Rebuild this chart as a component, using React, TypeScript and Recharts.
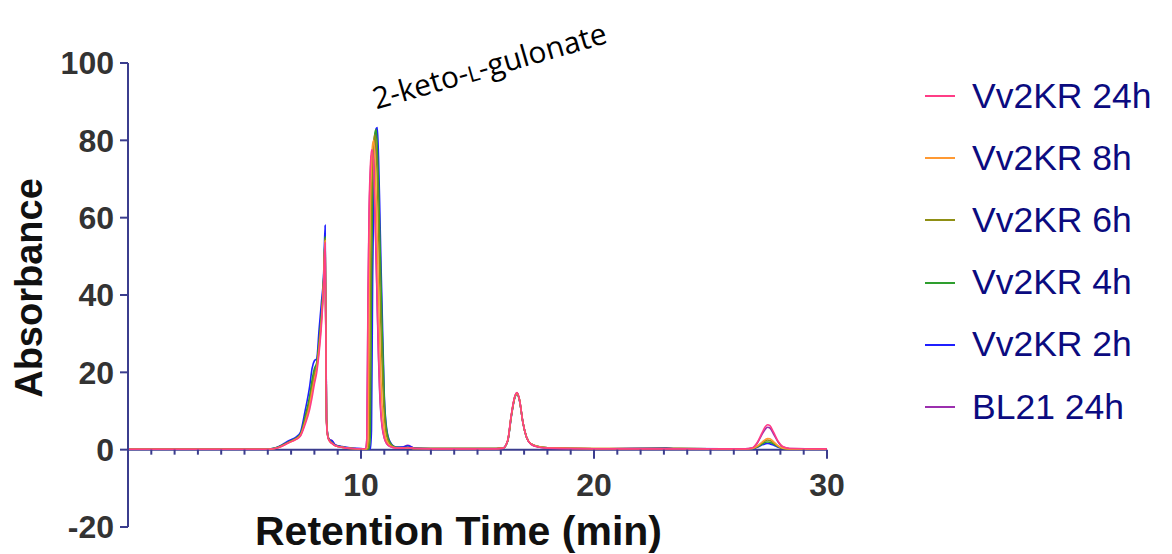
import { LineChart, Line, XAxis, YAxis, ReferenceLine, ReferenceDot, Legend } from 'recharts';

// retention time (min), denser around the peaks
const TIME = [
  0, 3, 6, 6.3, 6.6, 6.9, 7.2, 7.4, 7.6, 7.8,
  7.9, 8.0, 8.1, 8.2, 8.3, 8.4, 8.46, 8.52, 8.58, 8.65,
  8.75, 8.9, 9.2, 9.6, 10.0, 10.2, 10.25, 10.3, 10.35, 10.4,
  10.45, 10.5, 10.55, 10.6, 10.65, 10.7, 10.75, 10.8, 10.85, 10.9,
  11.0, 11.1, 11.25, 11.5, 11.8, 12.0, 12.3, 13, 15.8, 16.1,
  16.3, 16.45, 16.6, 16.7, 16.8, 16.95, 17.1, 17.3, 17.6, 18.0,
  20, 23.1, 23.4, 26.5, 26.8, 27.0, 27.2, 27.35, 27.45, 27.55,
  27.7, 27.9, 28.1, 28.4, 30,
];

const V_24H = [
  0.1, 0.1, 0.1, 0.3, 0.9, 1.8, 2.6, 3.5, 6.5, 10.5,
  13.5, 17, 20, 25, 32, 43, 53.5, 7, 3.2, 2.2,
  1.6, 1.0, 0.6, 0.3, 0.2, 0.3, 3, 40, 63, 73,
  77.5, 77.5, 72, 62, 50, 37, 25, 16, 10, 6.5,
  3, 1.6, 0.8, 0.4, 0.4, 0.5, 0.3, 0.2, 0.2, 0.4,
  2.5, 9, 13.8, 14.8, 13, 7, 3.3, 1.4, 0.7, 0.4,
  0.2, 0.2, 0.2, 0.2, 0.5, 1.8, 4.2, 5.9, 6.45, 6.2,
  4.6, 2.2, 0.8, 0.3, 0.2,
];

const V_8H = [
  0.1, 0.1, 0.1, 0.3, 0.9, 1.8, 2.7, 3.7, 7, 11.5,
  15, 18, 21, 26, 33, 43.5, 54, 7.5, 3.3, 2.2,
  1.6, 1.0, 0.6, 0.3, 0.2, 0.2, 0.3, 3, 40, 64,
  74, 79, 80, 75, 66, 54, 41, 29, 19, 12,
  5, 2.3, 1.0, 0.5, 0.4, 0.5, 0.3, 0.3, 0.3, 0.4,
  2.4, 8.8, 13.6, 14.6, 12.9, 7, 3.3, 1.5, 0.8, 0.5,
  0.3, 0.3, 0.3, 0.2, 0.3, 0.9, 1.9, 2.6, 2.9, 2.8,
  2.1, 1.0, 0.4, 0.2, 0.2,
];

const V_6H = [
  0.1, 0.1, 0.1, 0.3, 1.0, 1.9, 2.8, 3.8, 7.5, 12.5,
  16, 19.5, 21.5, 27, 34, 44, 54.5, 7.5, 3.3, 2.3,
  1.7, 1.0, 0.6, 0.3, 0.2, 0.2, 0.2, 0.3, 3, 40,
  65, 75, 80, 81.5, 78, 70, 58, 45, 33, 23,
  9, 3.5, 1.4, 0.5, 0.4, 0.5, 0.3, 0.3, 0.3, 0.4,
  2.4, 8.8, 13.6, 14.6, 12.9, 7, 3.3, 1.5, 0.8, 0.5,
  0.3, 0.3, 0.3, 0.2, 0.3, 0.8, 1.7, 2.3, 2.5, 2.4,
  1.8, 0.9, 0.4, 0.2, 0.2,
];

const V_4H = [
  0.1, 0.1, 0.1, 0.4, 1.1, 2.0, 2.9, 4.0, 8.5, 14,
  18, 21, 22.5, 28, 35, 45, 55, 7.8, 3.4, 2.4,
  1.8, 1.1, 0.7, 0.3, 0.2, 0.2, 0.2, 0.2, 0.3, 4,
  42, 67, 77, 82, 82.8, 78, 69, 57, 45, 33,
  13, 5, 1.8, 0.6, 0.5, 0.6, 0.3, 0.3, 0.3, 0.4,
  2.3, 8.6, 13.5, 14.5, 12.8, 7, 3.3, 1.5, 0.8, 0.5,
  0.2, 0.3, 0.3, 0.2, 0.3, 0.7, 1.4, 1.9, 2.0, 1.9,
  1.5, 0.8, 0.3, 0.2, 0.2,
];

const V_2H = [
  0.1, 0.1, 0.1, 0.4, 1.2, 2.3, 3.2, 4.5, 10, 16.5,
  21, 23, 23.5, 31, 38, 46, 58, 8, 3.5, 2.5,
  2.3, 1.2, 0.8, 0.4, 0.3, 0.2, 0.2, 0.2, 0.2, 0.3,
  5, 45, 68, 78, 83, 83.3, 76, 64, 50, 38,
  14, 5.5, 2, 0.7, 0.7, 1.0, 0.4, 0.3, 0.3, 0.4,
  2.3, 8.5, 13.4, 14.4, 12.7, 7, 3.3, 1.5, 0.8, 0.5,
  0.2, 0.5, 0.3, 0.2, 0.2, 0.6, 1.2, 1.5, 1.6, 1.5,
  1.2, 0.6, 0.3, 0.2, 0.2,
];

const V_BL21 = [
  0.1, 0.1, 0.1, 0.3, 1.0, 2.0, 2.8, 3.8, 8, 13,
  17, 20, 22, 27, 34, 44, 54, 8, 3.6, 2.6,
  2.4, 1.2, 0.7, 0.3, 0.2, 0.3, 2.5, 38, 61, 71,
  76, 76.5, 71, 61, 49, 36, 24, 15, 9.5, 6.2,
  3, 1.6, 0.8, 0.5, 0.7, 1.1, 0.4, 0.2, 0.2, 0.4,
  2.4, 8.8, 13.7, 14.7, 13, 7, 3.3, 1.4, 0.7, 0.4,
  0.2, 0.2, 0.2, 0.2, 0.4, 1.6, 3.8, 5.3, 5.8, 5.6,
  4.1, 2.0, 0.7, 0.3, 0.2,
];

const Y_TICKS = [-20, 0, 20, 40, 60, 80, 100];
const X_TICKS = [
  1, 2, 3, 4, 5, 6, 7, 8, 9, 10, 11, 12, 13, 14, 15,
  16, 17, 18, 19, 20, 21, 22, 23, 24, 25, 26, 27, 28, 29, 30,
];
const X_LABELS = [10, 20, 30];

// drawn bottom to top; legend lists them in reverse
const SERIES = [
  { key: 'bl21', name: 'BL21 24h', color: '#9b2fae', values: V_BL21 },
  { key: 'h2', name: 'Vv2KR 2h', color: '#1f1fff', values: V_2H },
  { key: 'h4', name: 'Vv2KR 4h', color: '#2e9e2e', values: V_4H },
  { key: 'h6', name: 'Vv2KR 6h', color: '#8f8f14', values: V_6H },
  { key: 'h8', name: 'Vv2KR 8h', color: '#ff9933', values: V_8H },
  { key: 'h24', name: 'Vv2KR 24h', color: '#ff3d86', values: V_24H },
];

const data = TIME.map((t, i) => {
  const row: Record<string, number> = { t };
  SERIES.forEach((s) => (row[s.key] = s.values[i]));
  return row;
});

const W = 1172;
const H = 554;
const MARGIN = { top: 63, right: 345, bottom: 0, left: 0 };
const Y_AXIS_W = 128;
const X_AXIS_H = 27;
const Y_DOMAIN: [number, number] = [-20, 100];
const PLOT_H = H - MARGIN.top - MARGIN.bottom - X_AXIS_H;
const ZERO_UP = (PLOT_H * (0 - Y_DOMAIN[0])) / (Y_DOMAIN[1] - Y_DOMAIN[0]);

const AXIS = '#3b3d8e';
const FONT = '"Liberation Sans", Arial, sans-serif';

function XTick(props: any) {
  const { x, y, payload } = props;
  const v = payload.value;
  const major = X_LABELS.includes(v);
  const y0 = y - ZERO_UP;
  return (
    <g>
      <line x1={x} x2={x} y1={y0} y2={y0 + (major ? 9 : 5)} stroke={AXIS} strokeWidth={2} />
      {major && (
        <text x={x} y={y0 + 46} textAnchor="middle" fill="#333" fontSize={32} fontWeight={700} fontFamily={FONT}>
          {v}
        </text>
      )}
    </g>
  );
}

function renderLegend() {
  const items = [...SERIES].reverse();
  return (
    <div style={{ fontFamily: FONT }}>
      {items.map((s) => (
        <div key={s.key} style={{ display: 'flex', alignItems: 'center', height: 62.2 }}>
          <div style={{ width: 30, height: 2, background: s.color, marginRight: 17 }} />
          <span style={{ fontSize: 35.5, color: '#0b0b80', whiteSpace: 'nowrap' }}>{s.name}</span>
        </div>
      ))}
    </div>
  );
}

export default function App() {
  return (
    <div style={{ position: 'absolute', left: 0, top: 0, width: W, height: H, background: '#fff' }}>
      <LineChart width={W} height={H} data={data} margin={MARGIN}>
        <XAxis
          dataKey="t"
          type="number"
          domain={[0, 30]}
          ticks={X_TICKS}
          interval={0}
          height={X_AXIS_H}
          axisLine={false}
          tickLine={false}
          tickSize={0}
          tickMargin={0}
          tick={<XTick />}
          label={{
            content: (p: any) => {
              const vb = p.viewBox;
              return (
                <text
                  x={vb.x + vb.width / 2 - 19}
                  y={vb.y + 18}
                  textAnchor="middle"
                  fill="#111"
                  fontSize={41}
                  fontWeight={700}
                  fontFamily={FONT}
                >
                  Retention Time (min)
                </text>
              );
            },
          }}
        />
        <YAxis
          type="number"
          domain={Y_DOMAIN}
          ticks={Y_TICKS}
          width={Y_AXIS_W}
          axisLine={{ stroke: AXIS, strokeWidth: 2 }}
          tickLine={{ stroke: AXIS, strokeWidth: 2 }}
          tickSize={8}
          tickMargin={6}
          tick={{ fill: '#333', fontSize: 32, fontWeight: 700, fontFamily: FONT }}
          label={{
            content: (p: any) => {
              const vb = p.viewBox;
              const cx = vb.x + 29;
              const cy = vb.y + vb.height / 2 - 7;
              return (
                <text
                  x={cx}
                  y={cy}
                  transform={`rotate(-90 ${cx} ${cy})`}
                  textAnchor="middle"
                  dominantBaseline="central"
                  fill="#111"
                  fontSize={38}
                  fontWeight={700}
                  fontFamily={FONT}
                >
                  Absorbance
                </text>
              );
            },
          }}
        />
        <ReferenceLine y={0} stroke={AXIS} strokeWidth={2} />
        {SERIES.map((s) => (
          <Line
            key={s.key}
            dataKey={s.key}
            name={s.name}
            type="monotone"
            stroke={s.color}
            strokeWidth={1.6}
            dot={false}
            activeDot={false}
            isAnimationActive={false}
          />
        ))}
        <ReferenceDot
          x={10.65}
          y={88}
          r={0}
          fill="none"
          stroke="none"
          label={{
            content: (p: any) => {
              const vb = p.viewBox;
              return (
                <text
                  x={vb.x}
                  y={vb.y}
                  transform={`rotate(-16 ${vb.x} ${vb.y})`}
                  fill="#000"
                  fontSize={30}
                  fontFamily='"Open Sans", sans-serif'
                >
                  2-keto-<tspan fontSize={22}>L</tspan>-gulonate
                </text>
              );
            },
          }}
        />
        <Legend
          layout="horizontal"
          verticalAlign="middle"
          align="center"
          content={renderLegend}
          wrapperStyle={{ left: 925, top: 65, width: 247 }}
        />
      </LineChart>
    </div>
  );
}
